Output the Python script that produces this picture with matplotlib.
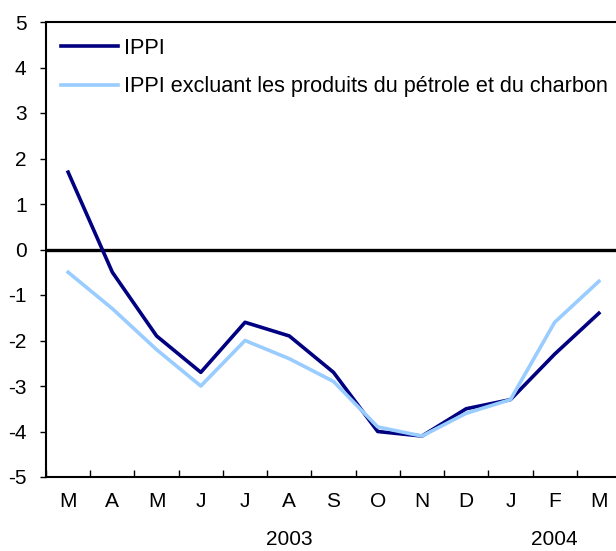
import matplotlib.pyplot as plt

plt.rcParams['font.family'] = ['Liberation Sans', 'DejaVu Sans']
plt.rcParams['axes.unicode_minus'] = False

months = ['M', 'A', 'M', 'J', 'J', 'A', 'S', 'O', 'N', 'D', 'J', 'F', 'M']
ippi = [1.7, -0.5, -1.9, -2.7, -1.6, -1.9, -2.7, -4.0, -4.1, -3.5, -3.3, -2.3, -1.4]
ippi_excl = [-0.5, -1.3, -2.2, -3.0, -2.0, -2.4, -2.9, -3.9, -4.1, -3.6, -3.3, -1.6, -0.7]
years = ['2003', '2004']
year_pos = [5, 11]

fig = plt.figure(figsize=(6.16, 5.51), dpi=100)
ax = fig.add_axes([46 / 616, 74 / 551, 575 / 616, 455 / 551])

x = range(len(months))
ax.plot(x, ippi, color='#000080', linewidth=2.6, label='IPPI')
ax.plot(x, ippi_excl, color='#99CCFF', linewidth=2.6,
        label='IPPI excluant les produits du pétrole et du charbon')
ax.axhline(0, color='black', linewidth=2.4, zorder=1)

ax.set_xlim(-0.5, len(months) - 0.5)
ax.set_ylim(-5, 5)
ax.set_yticks(range(-5, 6))
ax.set_xticks([i + 0.5 for i in range(-1, len(months) - 1)])
ax.set_xticklabels([])
ax.set_xticks(list(x), minor=True)
ax.set_xticklabels(months, minor=True)
ax.tick_params(axis='x', which='major', direction='in', length=5, width=1)
ax.tick_params(axis='x', which='minor', length=0, pad=11, labelsize=15)
ax.tick_params(axis='y', direction='out', length=4, width=1, labelsize=15, pad=10)

for s in ['left', 'bottom', 'top']:
    ax.spines[s].set_linewidth(1.5)
ax.spines['right'].set_visible(False)

for yr, p in zip(years, year_pos):
    ax.text(p, -0.138, yr, transform=ax.get_xaxis_transform(), ha='center', va='center', fontsize=15)

ax.legend(loc='upper left', bbox_to_anchor=(0.0, 0.998), frameon=False, fontsize=15.6,
          handlelength=2.6, handletextpad=0.3, labelspacing=0.8, borderaxespad=0.3)

fig.savefig('out.png', dpi=100)
